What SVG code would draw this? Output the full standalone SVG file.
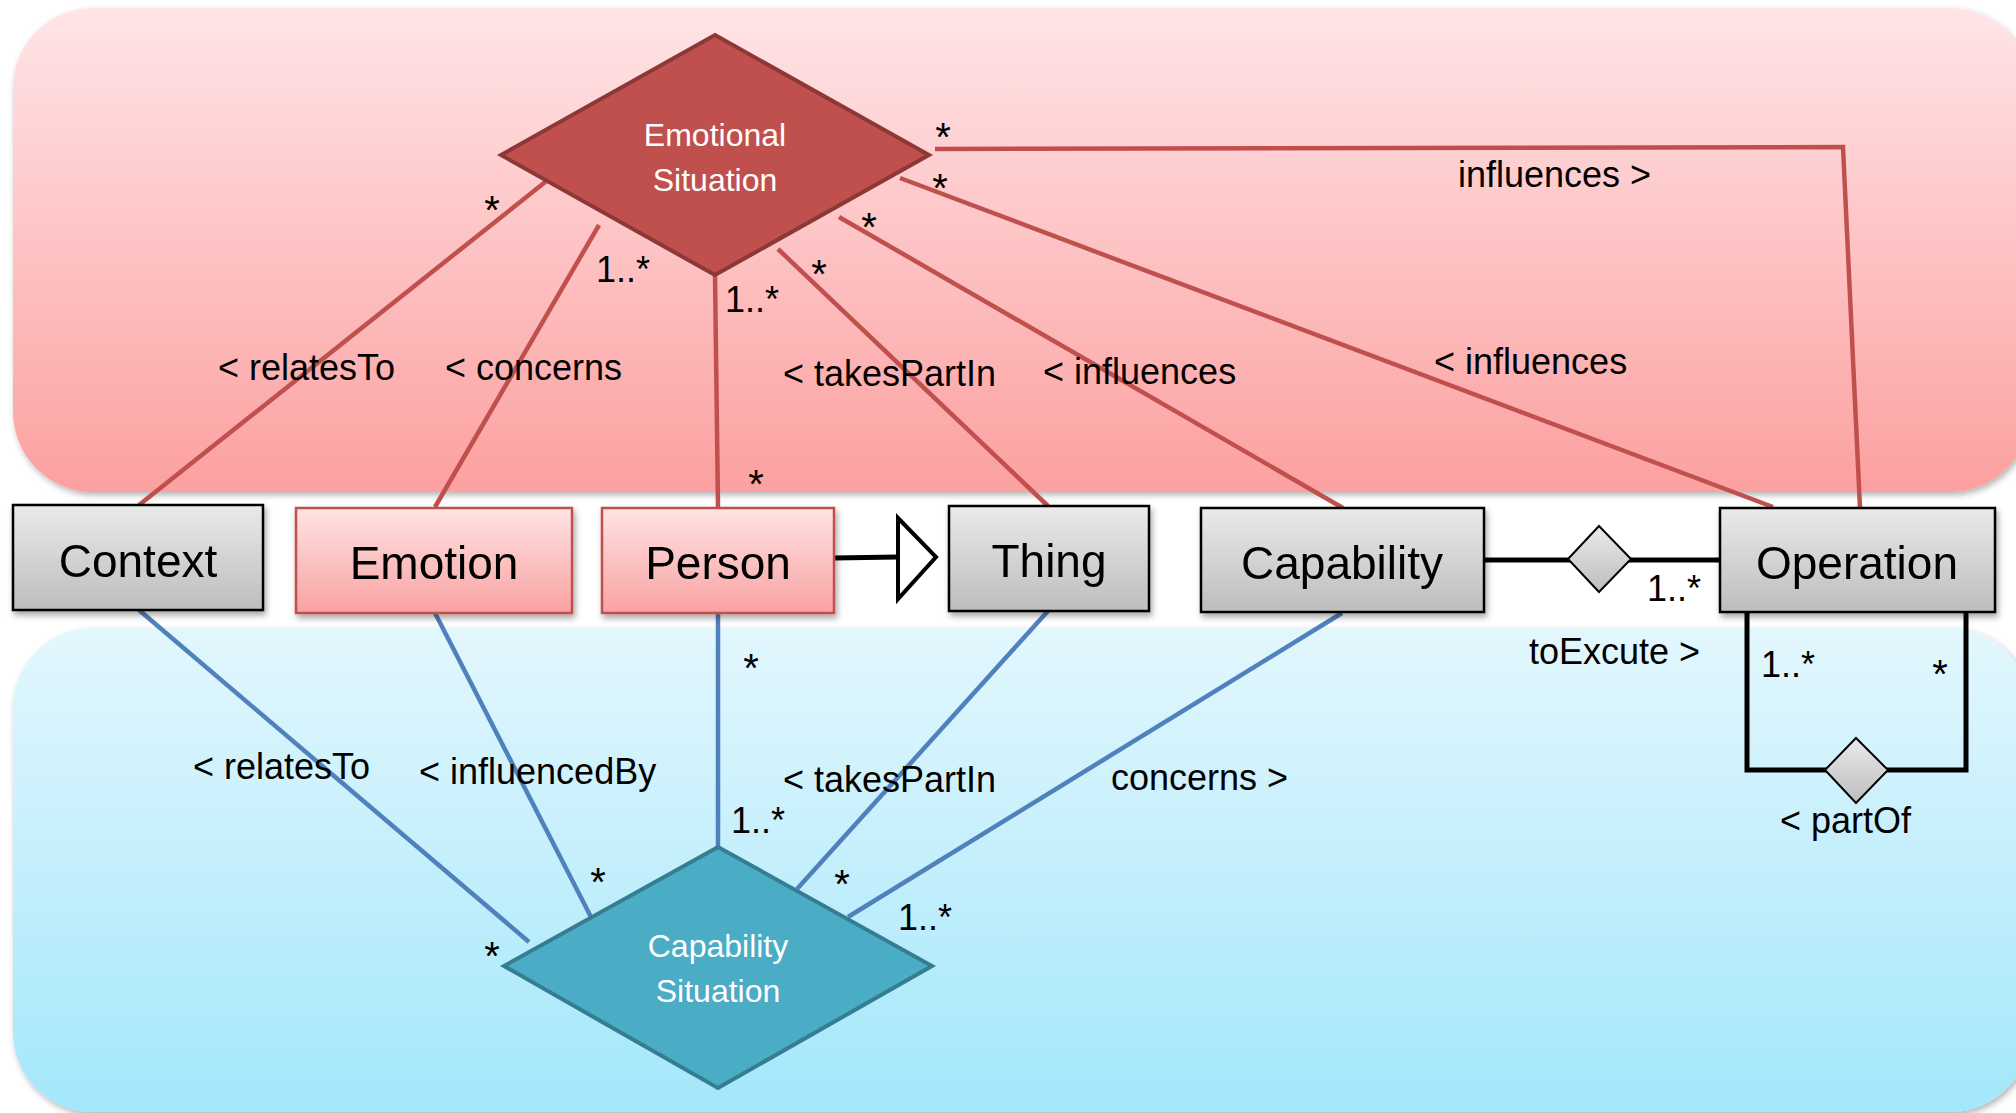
<svg xmlns="http://www.w3.org/2000/svg" width="2016" height="1113" viewBox="0 0 2016 1113">
  <defs>
    <linearGradient id="gRedPanel" x1="0" y1="0" x2="0" y2="1">
      <stop offset="0" stop-color="#FFE5E7"/>
      <stop offset="1" stop-color="#FCA0A0"/>
    </linearGradient>
    <linearGradient id="gBluePanel" x1="0" y1="0" x2="0" y2="1">
      <stop offset="0" stop-color="#E3F7FD"/>
      <stop offset="1" stop-color="#A3E7FB"/>
    </linearGradient>
    <linearGradient id="gGrey" x1="0" y1="0" x2="0" y2="1">
      <stop offset="0" stop-color="#EAEAEA"/>
      <stop offset="1" stop-color="#BDBDBD"/>
    </linearGradient>
    <linearGradient id="gPink" x1="0" y1="0" x2="0" y2="1">
      <stop offset="0" stop-color="#FFE3E3"/>
      <stop offset="1" stop-color="#F9A2A2"/>
    </linearGradient>
    <filter id="shadow" x="-10%" y="-10%" width="120%" height="130%">
      <feDropShadow dx="2" dy="4" stdDeviation="3" flood-color="#000" flood-opacity="0.35"/>
    </filter>
    <filter id="panelShadow" x="-5%" y="-5%" width="110%" height="115%">
      <feDropShadow dx="2" dy="3" stdDeviation="3" flood-color="#000" flood-opacity="0.3"/>
    </filter>
    <style>
      .lbl { font-family: "Liberation Sans", Arial, sans-serif; font-size: 36px; fill: #000; }
      .mul { font-family: "Liberation Sans", Arial, sans-serif; font-size: 36px; fill: #000; }
      .star { text-anchor: middle; font-size: 40px; }
      .node-text { font-family: "Liberation Sans", Arial, sans-serif; font-size: 46px; fill: #000; text-anchor: middle; }
      .dia-text { font-family: "Liberation Sans", Arial, sans-serif; font-size: 32px; fill: #FFF; text-anchor: middle; }
      .grey { fill: url(#gGrey); stroke: #000; stroke-width: 2.5; }
      .pink { fill: url(#gPink); stroke: #C0504D; stroke-width: 2.5; }
      .red { stroke: #C0504D; stroke-width: 4.5; fill: none; }
      .blue { stroke: #4F81BD; stroke-width: 4.5; fill: none; }
      .blk { stroke: #000; stroke-width: 5; fill: none; }
    </style>
  </defs>

  <rect width="2016" height="1113" fill="#FFFFFF"/>

  <!-- background areas -->
  <rect x="13" y="8" width="2017" height="484" rx="80" ry="80" fill="url(#gRedPanel)" filter="url(#panelShadow)"/>
  <rect x="13" y="628" width="2017" height="484" rx="80" ry="80" fill="url(#gBluePanel)" filter="url(#panelShadow)"/>

  <!-- connectors -->
  <g id="connectors">
    <!-- emotional situation links -->
    <line class="red" x1="139" y1="505" x2="549" y2="179"/>
    <line class="red" x1="435" y1="507" x2="599" y2="225"/>
    <line class="red" x1="718" y1="507" x2="715" y2="275"/>
    <line class="red" x1="1048" y1="506" x2="778" y2="249"/>
    <line class="red" x1="1343" y1="508" x2="839" y2="217"/>
    <line class="red" x1="1773" y1="507" x2="900" y2="178"/>
    <polyline class="red" points="935,149 1843,147 1860,508"/>

    <!-- capability situation links -->
    <line class="blue" x1="139" y1="610" x2="529" y2="942"/>
    <line class="blue" x1="435" y1="613" x2="591" y2="917"/>
    <line class="blue" x1="718" y1="613" x2="718" y2="847"/>
    <line class="blue" x1="1048" y1="611" x2="797" y2="889"/>
    <line class="blue" x1="1342" y1="613" x2="848" y2="917"/>

    <!-- generalization Person -> Thing -->
    <line class="blk" x1="834" y1="558" x2="898" y2="557"/>
    <polygon points="898,518 936,557 898,599" fill="#FFFFFF" stroke="#000" stroke-width="4" stroke-linejoin="miter"/>

    <!-- toExcute association -->
    <line class="blk" x1="1484" y1="560" x2="1720" y2="560"/>
    <polygon points="1568,559 1599,526 1631,559 1599,592" fill="url(#gGrey)" stroke="#000" stroke-width="2"/>

    <!-- partOf self association -->
    <polyline class="blk" points="1747,612 1747,770 1966,770 1966,612"/>
    <polygon points="1825,770 1856,738 1888,770 1856,803" fill="url(#gGrey)" stroke="#000" stroke-width="2"/>
  </g>

  <!-- relationship diamonds -->
  <g id="emotional-situation">
    <polygon points="715,35 929,155 715,275 501,155" fill="#C0504D" stroke="#8C3836" stroke-width="4"/>
    <text class="dia-text" x="715" y="146">Emotional</text>
    <text class="dia-text" x="715" y="191">Situation</text>
  </g>
  <g id="capability-situation">
    <polygon points="718,847 932,966 718,1088 504,966" fill="#4BACC6" stroke="#357D91" stroke-width="4"/>
    <text class="dia-text" x="718" y="957">Capability</text>
    <text class="dia-text" x="718" y="1002">Situation</text>
  </g>

  <!-- classes -->
  <g id="context" filter="url(#shadow)">
    <rect class="grey" x="13" y="505" width="250" height="105"/>
    <text class="node-text" x="138" y="577">Context</text>
  </g>
  <g id="emotion" filter="url(#shadow)">
    <rect class="pink" x="296" y="508" width="276" height="105"/>
    <text class="node-text" x="434" y="579">Emotion</text>
  </g>
  <g id="person" filter="url(#shadow)">
    <rect class="pink" x="602" y="508" width="232" height="105"/>
    <text class="node-text" x="718" y="579">Person</text>
  </g>
  <g id="thing" filter="url(#shadow)">
    <rect class="grey" x="949" y="506" width="200" height="105"/>
    <text class="node-text" x="1049" y="577">Thing</text>
  </g>
  <g id="capability" filter="url(#shadow)">
    <rect class="grey" x="1201" y="508" width="283" height="104"/>
    <text class="node-text" x="1342" y="579">Capability</text>
  </g>
  <g id="operation" filter="url(#shadow)">
    <rect class="grey" x="1720" y="508" width="275" height="104"/>
    <text class="node-text" x="1857" y="579">Operation</text>
  </g>

  <!-- association labels -->
  <g id="labels">
    <text class="lbl" x="218" y="380">&lt; relatesTo</text>
    <text class="lbl" x="445" y="380">&lt; concerns</text>
    <text class="lbl" x="783" y="386">&lt; takesPartIn</text>
    <text class="lbl" x="1043" y="384">&lt; influences</text>
    <text class="lbl" x="1434" y="374">&lt; influences</text>
    <text class="lbl" x="1458" y="187">influences &gt;</text>

    <text class="lbl" x="193" y="779">&lt; relatesTo</text>
    <text class="lbl" x="419" y="784">&lt; influencedBy</text>
    <text class="lbl" x="783" y="792">&lt; takesPartIn</text>
    <text class="lbl" x="1111" y="790">concerns &gt;</text>

    <text class="lbl" x="1529" y="664">toExcute &gt;</text>
    <text class="lbl" x="1780" y="833">&lt; partOf</text>

    <!-- multiplicities -->
    <text class="mul star" x="492" y="224">*</text>
    <text class="mul" x="596" y="282">1..*</text>
    <text class="mul" x="725" y="312">1..*</text>
    <text class="mul star" x="756" y="498">*</text>
    <text class="mul star" x="819" y="288">*</text>
    <text class="mul star" x="869" y="241">*</text>
    <text class="mul star" x="940" y="202">*</text>
    <text class="mul star" x="943" y="151">*</text>

    <text class="mul star" x="751" y="682">*</text>
    <text class="mul" x="731" y="833">1..*</text>
    <text class="mul star" x="598" y="896">*</text>
    <text class="mul star" x="492" y="970">*</text>
    <text class="mul star" x="842" y="898">*</text>
    <text class="mul" x="898" y="930">1..*</text>

    <text class="mul" x="1647" y="601">1..*</text>
    <text class="mul" x="1761" y="677">1..*</text>
    <text class="mul star" x="1940" y="688">*</text>
  </g>
</svg>
